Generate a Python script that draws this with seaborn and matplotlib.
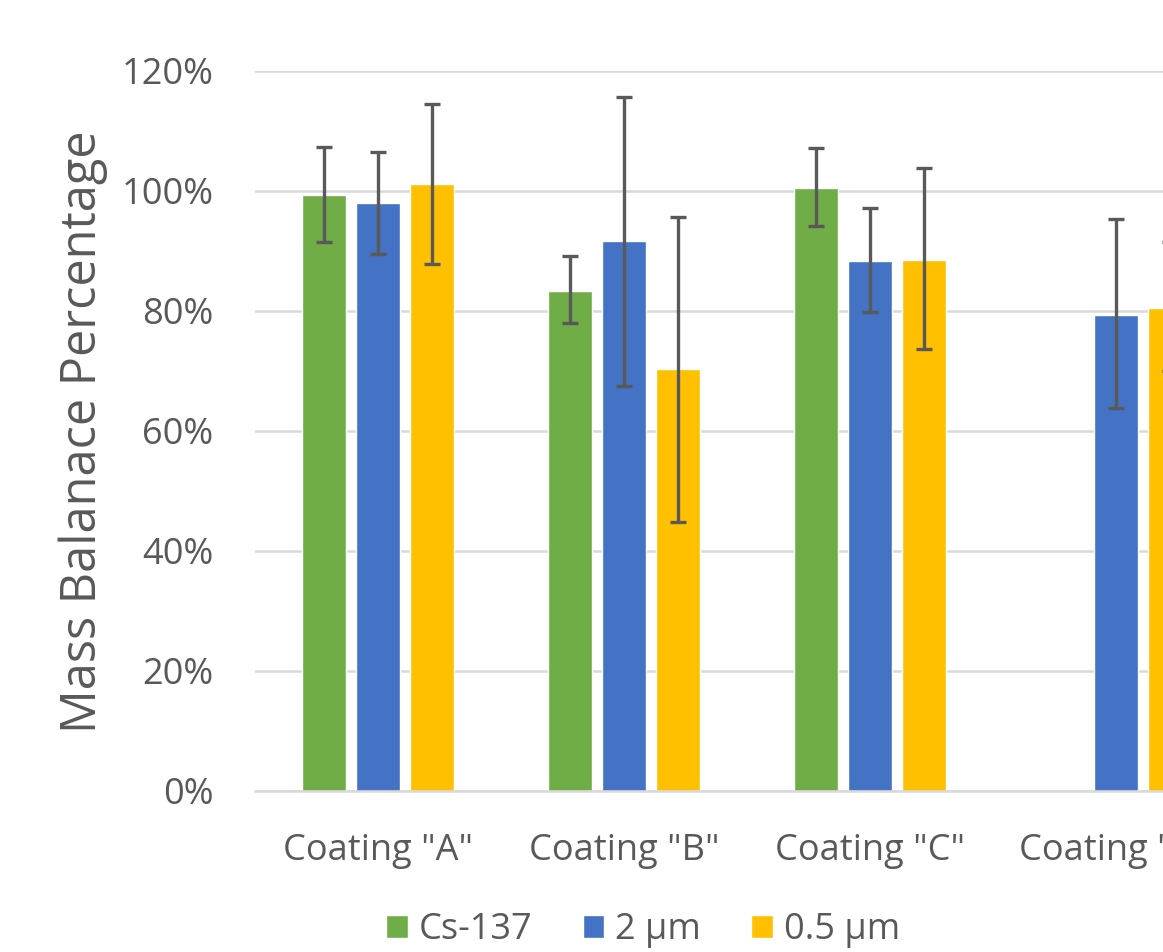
import numpy as np
import pandas as pd
import matplotlib
matplotlib.use("Agg")
import matplotlib.pyplot as plt
import seaborn as sns
from matplotlib.patches import Patch
from matplotlib.ticker import PercentFormatter

# --- data ---
coatings = ['Coating "A"', 'Coating "B"', 'Coating "C"', 'Coating "D"']
series = ["Cs-137", "2 µm", "0.5 µm"]
colors = ["#70AD47", "#4472C4", "#FFC000"]

cs137 = [99.3, 83.4, 100.5, np.nan]
um2 = [98.0, 91.7, 88.3, 79.4]
um05 = [101.2, 70.3, 88.5, 80.5]

cs137_hi = [107.4, 89.2, 107.2, np.nan]
cs137_lo = [91.5, 78.0, 94.2, np.nan]
um2_hi = [106.5, 115.7, 97.2, 95.4]
um2_lo = [89.5, 67.5, 79.8, 63.8]
um05_hi = [114.5, 95.7, 103.8, 91.5]
um05_lo = [87.8, 44.8, 73.7, 70.0]

values = [cs137, um2, um05]
highs = [cs137_hi, um2_hi, um05_hi]
lows = [cs137_lo, um2_lo, um05_lo]

rows = []
for s, vals in zip(series, values):
    for c, v in zip(coatings, vals):
        rows.append({"coating": c, "series": s, "value": v})
df = pd.DataFrame(rows)

# --- plot ---
sns.set_theme(style="white")
plt.rcParams["font.family"] = ["Open Sans", "DejaVu Sans"]
text_color = "#595959"
grid_color = "#d9d9d9"

fig = plt.figure(figsize=(11.63, 9.52), dpi=100)
# axes run past the right edge, as in the cropped original
ax = fig.add_axes([255 / 1163, 1 - 791 / 952, 4 * 246 / 1163, 720 / 952])

group_w = 0.66
sns.barplot(data=df, x="coating", y="value", hue="series", order=coatings,
            hue_order=series, palette=colors, saturation=1, width=group_w, gap=0.2,
            errorbar=None, legend=False, ax=ax, zorder=2)

step = group_w / len(series)
for j, (vals, hi, lo) in enumerate(zip(values, highs, lows)):
    x = np.arange(len(coatings)) + (j - 1) * step
    v = np.array(vals)
    err = np.vstack([v - np.array(lo), np.array(hi) - v])
    ax.errorbar(x, v, yerr=err, fmt="none", ecolor=text_color,
                elinewidth=2.4, capsize=6, capthick=2.4, zorder=3)

ax.set_ylim(0, 120)
ax.set_xlim(-0.5, 3.5)
ax.set_yticks(range(0, 121, 20))
ax.yaxis.set_major_formatter(PercentFormatter(decimals=0))
ax.grid(axis="y", color=grid_color, linewidth=1.8, zorder=0)
ax.set_axisbelow(True)
for side in ["top", "right", "left"]:
    ax.spines[side].set_visible(False)
ax.spines["bottom"].set_color(grid_color)
ax.spines["bottom"].set_linewidth(1.8)

ax.tick_params(axis="y", length=0, pad=30, labelsize=26, labelcolor=text_color)
ax.tick_params(axis="x", length=0, pad=30, labelsize=26, labelcolor=text_color)
ax.set_xlabel("")
ax.set_ylabel("Mass Balanace Percentage", fontsize=35, color=text_color)
ax.yaxis.set_label_coords(108 / 1163, 1 - 432 / 952, transform=fig.transFigure)

handles = [Patch(facecolor=c, label=s) for c, s in zip(colors, series)]
fig.legend(handles=handles, loc="center", bbox_to_anchor=(643 / 1163, 1 - 930 / 952),
           ncol=3, frameon=False, fontsize=26, labelcolor=text_color,
           handlelength=0.6, handleheight=0.6, handletextpad=0.3, columnspacing=1.4)

fig.savefig("out.png", dpi=100)
